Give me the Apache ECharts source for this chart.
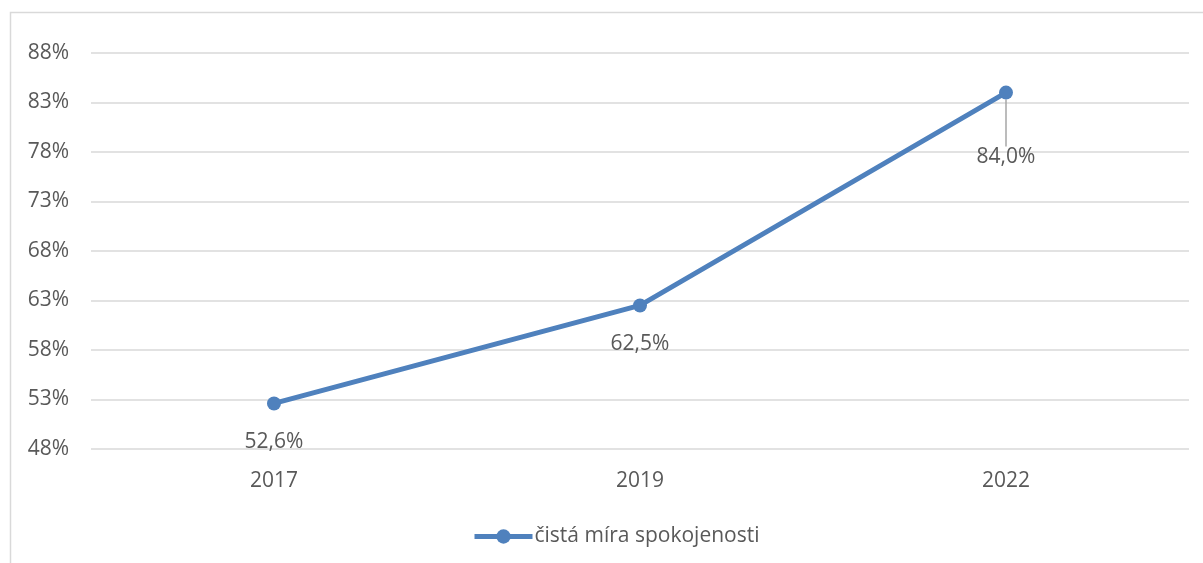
<!DOCTYPE html>
<html><head><meta charset="utf-8">
<script src="https://cdn.jsdelivr.net/npm/echarts@6/dist/echarts.min.js"></script>
<style>html,body{margin:0;padding:0;background:#fff}#c{width:1203px;height:563px}</style>
</head><body><div id="c"></div>
<script>
const categories = ['2017', '2019', '2022'];
const values = [52.6, 62.5, 84.0];
const seriesName = 'čistá míra spokojenosti';
const yMin = 48, yMax = 88, yStep = 5;

const FONT = '"Open Sans", "Noto Sans", sans-serif';
const TXT = '#595959';
const BLUE = '#4f81bd';

const chart = echarts.init(document.getElementById('c'));
chart.setOption({
  animation: false,
  graphic: [{
    type: 'rect', shape: {x: 10.5, y: 12.5, width: 1300, height: 700},
    style: {fill: 'none', stroke: '#d9d9d9', lineWidth: 1.5}, silent: true, z: -1
  }],
  grid: {left: 91, right: 14, top: 53, bottom: 114},
  legend: {
    data: [seriesName], bottom: 11, left: 467,
    itemWidth: 58, itemHeight: 18, itemGap: 10,
    lineStyle: {width: 5},
    textStyle: {fontFamily: FONT, fontSize: 21, color: TXT, padding: [0, 0, 0, -3]}
  },
  xAxis: {
    type: 'category', data: categories,
    axisLine: {show: false}, axisTick: {show: false},
    axisLabel: {fontFamily: FONT, fontSize: 21, color: TXT, margin: 22}
  },
  yAxis: {
    type: 'value', min: yMin, max: yMax, interval: yStep,
    axisLine: {show: false}, axisTick: {show: false},
    splitLine: {lineStyle: {color: '#d9d9d9', width: 1.5}},
    axisLabel: {fontFamily: FONT, fontSize: 21, color: TXT, margin: 22,
      formatter: v => v + '%'}
  },
  series: [{
    name: seriesName, type: 'line', data: values.map((v, i) => i === 2 ? {
      value: v,
      labelLine: {show: true, lineStyle: {color: '#a6a6a6', width: 1.5}}
    } : v),
    symbol: 'circle', symbolSize: 14,
    lineStyle: {width: 5, color: BLUE}, itemStyle: {color: BLUE},
    label: {show: true, position: 'bottom', distance: 21,
      fontFamily: FONT, fontSize: 21, color: TXT,
      formatter: p => p.value.toFixed(1).replace('.', ',') + '%'},
    labelLayout: p => p.dataIndex === 2 ? {dy: 26} : {},
  }]
});
</script></body></html>
